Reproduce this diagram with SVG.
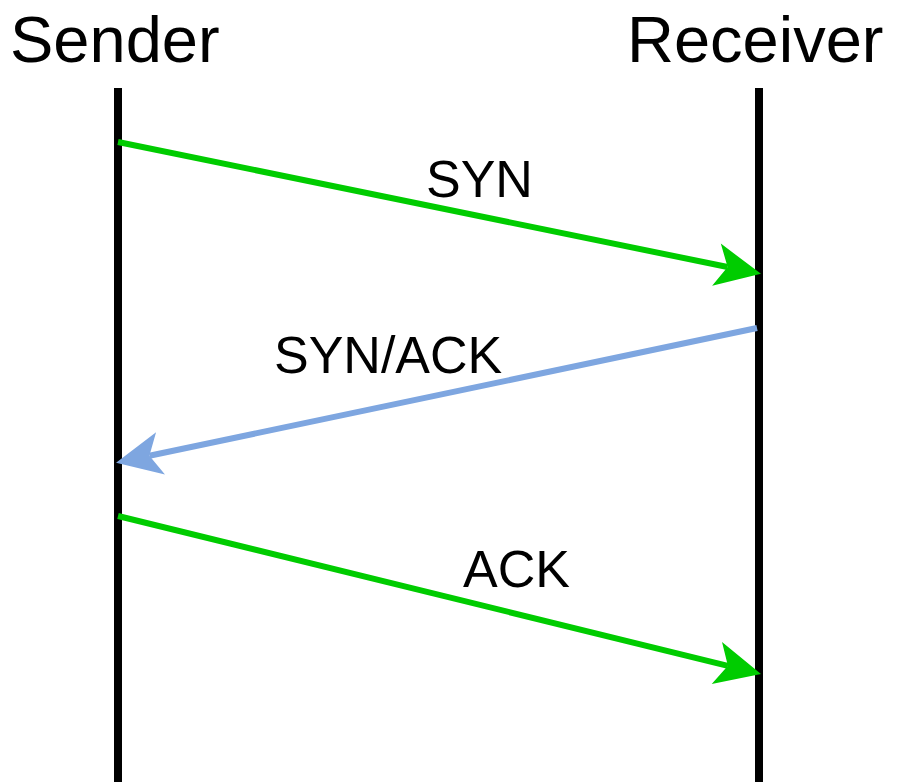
<svg xmlns="http://www.w3.org/2000/svg" width="900" height="782" viewBox="0 0 900 782">
  <style>
    .title { font-family: "Liberation Sans", Arial, sans-serif; font-size: 65px; fill: #000; }
    .label { font-family: "Liberation Sans", Arial, sans-serif; font-size: 52px; fill: #000; }
    .life { stroke: #000; stroke-width: 8; fill: none; }
    .green { stroke: #00CC00; stroke-width: 6; fill: none; }
    .blue { stroke: #7EA6E0; stroke-width: 6; fill: none; }
  </style>
  <defs>
    <marker id="arrowGreen" markerUnits="userSpaceOnUse" markerWidth="50" markerHeight="50" viewBox="-12 -22 44 44" refX="0" refY="0" orient="auto" overflow="visible">
      <path d="M30,0 L-10,-19 L0,0 L-10,19 Z" fill="#00CC00"/>
    </marker>
    <marker id="arrowBlue" markerUnits="userSpaceOnUse" markerWidth="50" markerHeight="50" viewBox="-12 -22 44 44" refX="0" refY="0" orient="auto" overflow="visible">
      <path d="M30,0 L-10,-19 L0,0 L-10,19 Z" fill="#7EA6E0"/>
    </marker>
  </defs>
  <rect width="900" height="782" fill="#fff"/>
  <g id="sender">
    <text class="title" x="10" y="62">Sender</text>
    <line class="life" x1="118" y1="88" x2="118" y2="782"/>
  </g>
  <g id="receiver">
    <text class="title" x="627" y="62">Receiver</text>
    <line class="life" x1="759" y1="88" x2="759" y2="782"/>
  </g>
  <g id="connectors">
    <line class="green" x1="118" y1="142" x2="727.6" y2="267" marker-end="url(#arrowGreen)"/>
    <line class="blue" x1="757" y1="328" x2="149.4" y2="455.8" marker-end="url(#arrowBlue)"/>
    <line class="green" x1="118" y1="516" x2="727.9" y2="665.8" marker-end="url(#arrowGreen)"/>
  </g>
  <g id="labels">
    <text class="label" x="426" y="197">SYN</text>
    <text class="label" x="274" y="373">SYN/ACK</text>
    <text class="label" x="463" y="587">ACK</text>
  </g>
</svg>
